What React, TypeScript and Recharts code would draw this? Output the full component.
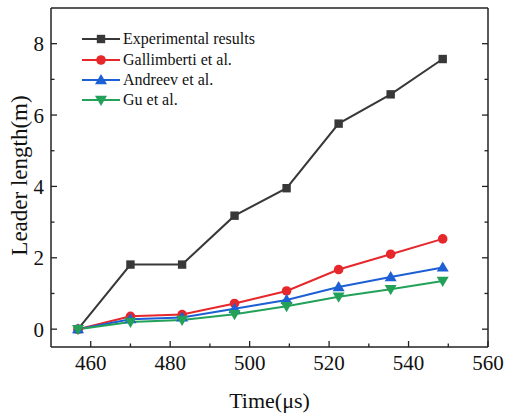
import React from 'react';
import { LineChart, Line, XAxis, YAxis } from 'recharts';

const times = [456.8, 470.0, 483.0, 496.2, 509.3, 522.4, 535.5, 548.6];
const experimental = [0, 1.81, 1.81, 3.18, 3.95, 5.76, 6.58, 7.57];
const gallimberti = [0, 0.36, 0.41, 0.72, 1.07, 1.67, 2.1, 2.53];
const andreev = [0, 0.28, 0.33, 0.57, 0.82, 1.18, 1.46, 1.73];
const gu = [0, 0.2, 0.26, 0.42, 0.64, 0.91, 1.12, 1.35];

const xTicks = [460, 470, 480, 490, 500, 510, 520, 530, 540, 550, 560];
const yTicks = [0, 1, 2, 3, 4, 5, 6, 7, 8];

const series = [
  { key: 'exp', name: 'Experimental results', color: '#383838', shape: 'square' },
  { key: 'gal', name: 'Gallimberti et al.', color: '#e6282c', shape: 'circle' },
  { key: 'and', name: 'Andreev et al.', color: '#1d5fd4', shape: 'triangle' },
  { key: 'gu', name: 'Gu et al.', color: '#23a159', shape: 'down' },
];

const data = times.map((t, i) => ({
  t,
  exp: experimental[i],
  gal: gallimberti[i],
  and: andreev[i],
  gu: gu[i],
}));

const FONT = 'Liberation Serif, serif';
const AXIS = '#222';

function Marker({ cx, cy, shape, color }: any) {
  if (cx == null || cy == null) return null;
  if (shape === 'square') return <rect x={cx - 4.2} y={cy - 4.2} width={8.4} height={8.4} fill={color} />;
  if (shape === 'circle') return <circle cx={cx} cy={cy} r={4.8} fill={color} />;
  if (shape === 'triangle')
    return <polygon points={`${cx},${cy - 6} ${cx - 6},${cy + 4.2} ${cx + 6},${cy + 4.2}`} fill={color} />;
  return <polygon points={`${cx},${cy + 6} ${cx - 6},${cy - 4.2} ${cx + 6},${cy - 4.2}`} fill={color} />;
}

const BottomTick = ({ x, y, payload }: any) => {
  const major = payload.value % 20 === 0;
  return (
    <g>
      <line x1={x} y1={y} x2={x} y2={y - (major ? 6 : 3.5)} stroke={AXIS} strokeWidth={1.3} />
      {major && (
        <text x={x} y={y + 23} textAnchor="middle" style={{ fontSize: 21, fontFamily: FONT }} fill="#111">
          {payload.value}
        </text>
      )}
    </g>
  );
};

const TopTick = ({ x, y, payload }: any) => {
  const major = payload.value % 20 === 0;
  return <line x1={x} y1={y} x2={x} y2={y + (major ? 6 : 3.5)} stroke={AXIS} strokeWidth={1.3} />;
};

const LeftTick = ({ x, y, payload }: any) => {
  const major = payload.value % 2 === 0;
  return (
    <g>
      <line x1={x} y1={y} x2={x + (major ? 6 : 3.5)} y2={y} stroke={AXIS} strokeWidth={1.3} />
      {major && (
        <text x={x - 7} y={y + 7.5} textAnchor="end" style={{ fontSize: 21, fontFamily: FONT }} fill="#111">
          {payload.value}
        </text>
      )}
    </g>
  );
};

const RightTick = ({ x, y, payload }: any) => {
  const major = payload.value % 2 === 0;
  return <line x1={x} y1={y} x2={x - (major ? 6 : 3.5)} y2={y} stroke={AXIS} strokeWidth={1.3} />;
};

const LegendBox = () => (
  <div style={{ position: 'absolute', left: 81, top: 29, fontFamily: FONT, fontSize: 16, color: '#111' }}>
    {series.map((s) => (
      <div key={s.key} style={{ display: 'flex', alignItems: 'center', height: 20.4 }}>
        <svg width={40} height={14} style={{ display: 'block' }}>
          <line x1={1} y1={7} x2={39} y2={7} stroke={s.color} strokeWidth={2} />
          <Marker cx={20} cy={7} shape={s.shape} color={s.color} />
        </svg>
        <span style={{ marginLeft: 2, whiteSpace: 'nowrap' }}>{s.name}</span>
      </div>
    ))}
  </div>
);

export default function App() {
  return (
    <div style={{ position: 'absolute', left: 0, top: 0, width: 506, height: 416, background: '#fff' }}>
      <LineChart width={506} height={416} data={data} margin={{ top: 0, right: 0, bottom: 0, left: 0 }}>
        <XAxis
          dataKey="t"
          type="number"
          domain={[450, 560]}
          allowDataOverflow
          ticks={xTicks}
          interval={0}
          height={69}
          tickSize={0}
          tickMargin={0}
          tickLine={false}
          axisLine={{ stroke: AXIS, strokeWidth: 1.5 }}
          tick={<BottomTick />}
          label={{ value: 'Time(μs)', position: 'center', dy: 19, fontSize: 22, fontFamily: FONT, fill: '#111' }}
        />
        <XAxis
          xAxisId="top"
          orientation="top"
          type="number"
          domain={[450, 560]}
          allowDataOverflow
          ticks={xTicks}
          interval={0}
          height={8}
          tickSize={0}
          tickMargin={0}
          tickLine={false}
          axisLine={{ stroke: AXIS, strokeWidth: 1.5 }}
          tick={<TopTick />}
        />
        <YAxis
          type="number"
          domain={[-0.5, 9]}
          allowDataOverflow
          ticks={yTicks}
          interval={0}
          width={51}
          tickSize={0}
          tickMargin={0}
          tickLine={false}
          axisLine={{ stroke: AXIS, strokeWidth: 1.5 }}
          tick={<LeftTick />}
          label={{ value: 'Leader length(m)', angle: -90, position: 'center', dx: -7, dy: -2, fontSize: 23, fontFamily: FONT, fill: '#111' }}
        />
        <YAxis
          yAxisId="right"
          orientation="right"
          type="number"
          domain={[-0.5, 9]}
          allowDataOverflow
          ticks={yTicks}
          interval={0}
          width={18}
          tickSize={0}
          tickMargin={0}
          tickLine={false}
          axisLine={{ stroke: AXIS, strokeWidth: 1.5 }}
          tick={<RightTick />}
        />
        {series.map((s) => (
          <Line
            key={s.key}
            type="linear"
            dataKey={s.key}
            name={s.name}
            stroke={s.color}
            strokeWidth={2}
            dot={(p: any) => <Marker key={`${s.key}-${p.index}`} cx={p.cx} cy={p.cy} shape={s.shape} color={s.color} />}
            activeDot={false}
            isAnimationActive={false}
          />
        ))}
      </LineChart>
      <LegendBox />
    </div>
  );
}
